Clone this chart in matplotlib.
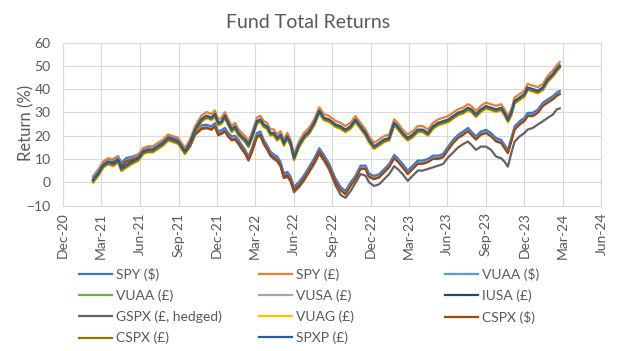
import matplotlib
matplotlib.use('Agg')
import matplotlib.pyplot as plt
import matplotlib.dates as mdates
import pandas as pd

plt.rcParams['font.family'] = ['Lato', 'DejaVu Sans']

#даты точек
dates = ['2021-02-10','2021-02-22','2021-03-06','2021-03-18','2021-03-30','2021-04-10','2021-04-18','2021-04-30',
         '2021-05-12','2021-05-28','2021-06-09','2021-06-20','2021-07-02','2021-07-14','2021-07-26','2021-08-07',
         '2021-08-19','2021-08-31','2021-09-08','2021-09-16','2021-09-28','2021-10-10','2021-10-25','2021-11-06',
         '2021-11-18','2021-11-26','2021-12-04','2021-12-12','2021-12-20','2021-12-28','2022-01-05','2022-01-13',
         '2022-01-21','2022-01-29','2022-02-06','2022-02-14','2022-02-22','2022-03-06','2022-03-14','2022-03-22',
         '2022-03-30','2022-04-07','2022-04-15','2022-04-23','2022-05-01','2022-05-09','2022-05-17','2022-05-25',
         '2022-06-02','2022-06-14','2022-06-26','2022-07-08','2022-07-20','2022-08-01','2022-08-12','2022-08-24',
         '2022-09-09','2022-09-21','2022-10-02','2022-10-14','2022-10-26','2022-11-07','2022-11-19','2022-11-27',
         '2022-12-09','2022-12-21','2023-01-02','2023-01-14','2023-01-26','2023-02-03','2023-02-15','2023-02-27',
         '2023-03-11','2023-03-23','2023-04-04','2023-04-16','2023-04-28','2023-05-10','2023-05-22','2023-06-03',
         '2023-06-15','2023-06-27','2023-07-09','2023-07-20','2023-07-28','2023-08-08','2023-08-20','2023-09-01',
         '2023-09-13','2023-09-25','2023-10-07','2023-10-15','2023-10-23','2023-10-31','2023-11-08','2023-11-20',
         '2023-12-01','2023-12-09','2023-12-21','2024-01-02','2024-01-14','2024-01-26','2024-02-07','2024-02-16',
         '2024-02-23']

#фонды в фунтах (линия SPXP)
gbp = [1, 3.8, 7.4, 8.8, 8, 9.6, 5.9, 7.4,
       8.8, 10.3, 13.2, 13.9, 13.9, 15.4, 16.8, 19,
       18.3, 17.5, 15.4, 13.2, 16.8, 22.5, 27, 28.6,
       27.8, 29.3, 25.5, 26.2, 28.6, 25.5, 22.6, 24,
       21.2, 19.7, 18.3, 16.1, 19.7, 26.2, 27, 24.8,
       24, 21.2, 21.2, 19, 20.4, 16.8, 19.7, 16.8,
       10.5, 16.1, 19.7, 21.9, 25.5, 30.7, 27.7, 27,
       24.8, 24, 22.6, 24, 26.9, 24, 21.1, 18.3,
       15.4, 16.8, 18.3, 19, 25.5, 24, 21.1, 19,
       20.4, 22.6, 22.6, 21.1, 24, 25.5, 26.2, 26.9,
       28.4, 29.9, 30.6, 32, 31.3, 29.1, 31.3, 32.7,
       32, 31.3, 32, 29.8, 26.9, 29.8, 34.9, 36.4,
       37.8, 40.7, 40, 39.3, 40.7, 44.3, 46.5, 48.7,
       50.1]

#фонды в долларах (линия CSPX $)
usd = [1, 3.8, 7.2, 8.5, 8.5, 9.8, 7, 9,
       9.5, 10.5, 13, 13.8, 14, 15.2, 16.5, 18.5,
       17.8, 17, 15, 12.5, 15.5, 20.5, 23, 23.3,
       22.6, 24, 20.4, 21, 21.9, 19.7, 18.3, 18.5,
       16.8, 14.5, 12.5, 9.6, 13.2, 19.7, 20.4, 16.8,
       14.5, 11.8, 10.5, 9.6, 7.4, 2.3, 3, 1,
       -3.5, -1.3, 1.6, 5.2, 8.8, 13.2, 10.3, 6.7,
       0, -3.5, -5.2, -1.6, 1.3, 5.7, 5.7, 2.3,
       1.3, 2, 4.2, 6.4, 10.3, 8.9, 6.4, 3.5,
       5.7, 7.9, 7.9, 8.6, 10, 10, 10.7, 13.9,
       16.8, 19, 20.4, 21.9, 20.4, 18.3, 20.4, 21.1,
       19.7, 17.5, 16.8, 14.6, 12.5, 17.5, 22.6, 24.8,
       26.2, 28.4, 28.4, 29.8, 32.7, 34.2, 35.6, 37.1,
       37.8]

#GSPX с хеджированием
hedged = [1, 3.5, 7, 8.3, 8.2, 9.5, 6.5, 8.8,
          9.3, 10.3, 12.8, 13.6, 13.8, 15, 16.3, 18.3,
          17.6, 16.8, 14.8, 12.3, 15.3, 20.3, 22.8, 23.3,
          22.6, 24, 20.2, 20.8, 21.7, 19.5, 18, 18.2,
          16.5, 14.2, 12.2, 9.3, 12.9, 19.3, 20, 16.4,
          14, 11.3, 10, 9, 6.8, 1.7, 2.4, 0.3,
          -4.3, -2.1, 0.8, 4.3, 7.8, 12.2, 9.3, 5.6,
          -1.5, -5.5, -6.7, -3.9, -0.3, 3.5, 2.8, 0,
          -1.6, -0.9, 1.3, 3.5, 6.9, 5.7, 3.5, 0.6,
          2.8, 5, 5, 5.7, 6.4, 7.1, 7.8, 10.7,
          12.8, 15, 16.4, 17.5, 16.1, 13.9, 15.3, 15.3,
          13.9, 11, 10.3, 8.8, 6.7, 12.5, 17.5, 19.7,
          21.1, 22.6, 23.3, 24.8, 26.2, 27.7, 29.1, 31.3,
          31.7]

names = ['SPY ($)', 'SPY (£)', 'VUAA ($)', 'VUAA (£)', 'VUSA (£)', 'IUSA (£)',
         'GSPX (£, hedged)', 'VUAG (£)', 'CSPX ($)', 'CSPX (£)', 'SPXP (£)']
colours = ['#4472C4', '#ED7D31', '#5B9BD5', '#70AD47', '#A5A5A5', '#264478',
           '#636363', '#FFC000', '#9E480E', '#997300', '#255E91']
#к какой линии относится фонд и насколько он от нее отстоит (%)
group = ['usd', 'gbp', 'usd', 'gbp', 'gbp', 'gbp', 'hedged', 'gbp', 'usd', 'gbp', 'gbp']
offset = [1.4, 1.5, 0.4, -0.3, -0.5, -0.2, 0, -1.2, 0, -0.8, 0]

base = {'gbp': gbp, 'usd': usd, 'hedged': hedged}
x = pd.to_datetime(dates)

f = plt.figure(figsize=(6.2, 3.51), dpi=100)
ax = f.add_axes([0.102, 0.4145, 0.868, 0.4644])

lines = []
for nm, c, g, off in zip(names, colours, group, offset):
    y = [v + off for v in base[g]]
    l, = ax.plot(x, y, '-', color=c, linewidth=1.6, label=nm)
    lines.append(l)

ax.set_xlim(pd.Timestamp('2020-12-01'), pd.Timestamp('2024-06-01'))
ax.set_ylim(-10, 60)
ax.set_yticks(range(-10, 61, 10))
ax.xaxis.set_major_locator(mdates.MonthLocator(bymonth=[3, 6, 9, 12]))
ax.xaxis.set_major_formatter(mdates.DateFormatter('%b-%y'))
ax.grid(True, color='#D9D9D9', linewidth=0.8)
ax.set_axisbelow(True)
for s in ax.spines.values():
    s.set_color('#D9D9D9')
    s.set_linewidth(0.8)
ax.tick_params(length=0, labelsize=10, labelcolor='#595959')
ax.tick_params(axis='x', rotation=90, pad=5)
ax.tick_params(axis='y', pad=9)

f.text(0.497, 1 - 23 / 351, 'Fund Total Returns', ha='center', va='center',
       fontsize=14, color='#595959')
f.text(26 / 620, 1 - 123 / 351, 'Return (%)', rotation=90, ha='center', va='center',
       fontsize=12, color='#595959')

#легенда в три столбца, порядок по строкам как в Excel
cols = [[0, 3, 6, 9], [1, 4, 7, 10], [2, 5, 8]]
col_x = [79, 259, 445]
for idx, cx in zip(cols, col_x):
    f.legend([lines[i] for i in idx], [names[i] for i in idx],
             loc='upper left', bbox_to_anchor=(cx / 620, 1 - 268 / 351),
             frameon=False, fontsize=10, handlelength=2.4, handletextpad=0.3,
             labelspacing=0.62, borderpad=0, borderaxespad=0,
             labelcolor='#595959')

f.savefig('out.png', dpi=100)
